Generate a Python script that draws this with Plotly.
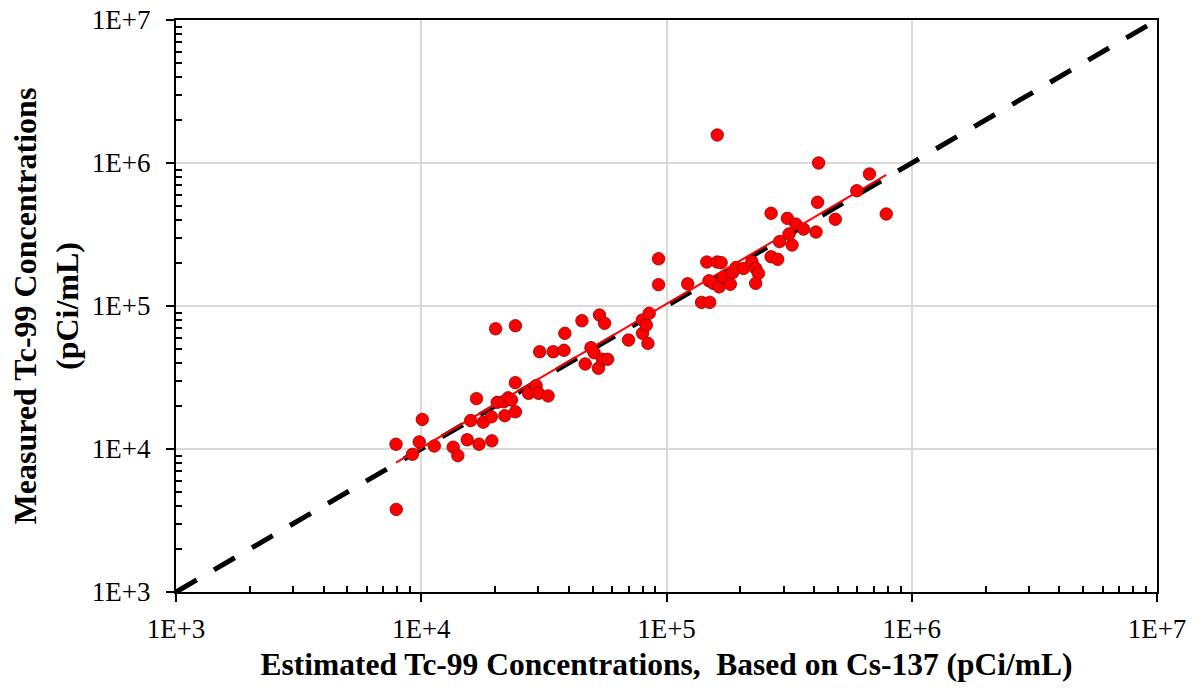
import numpy as np
import plotly.graph_objects as go

# Estimated Tc-99 (based on Cs-137), pCi/mL
est_tc99 = [7.91e3, 7.89e3, 1.01e4, 9.81e3, 9.21e3, 1.13e4, 1.35e4, 1.41e4, 1.54e4, 1.72e4,
            1.94e4, 1.59e4, 1.79e4, 1.93e4, 2.19e4, 2.42e4, 1.68e4, 2.04e4, 2.17e4, 2.26e4,
            2.33e4, 2.42e4, 2.01e4, 2.42e4, 2.74e4, 2.94e4, 3.01e4, 3.29e4, 3.04e4, 3.45e4,
            3.82e4, 3.85e4, 4.52e4, 5.33e4, 5.59e4, 4.92e4, 5.07e4, 4.66e4, 5.28e4, 5.48e4,
            5.75e4, 7.00e4, 7.98e4, 8.40e4, 7.98e4, 8.27e4, 8.50e4, 9.28e4, 9.28e4, 1.22e5,
            1.39e5, 1.50e5, 1.46e5, 1.61e5, 1.67e5, 1.49e5, 1.55e5, 1.64e5, 1.71e5, 1.82e5,
            1.86e5, 1.92e5, 2.06e5, 2.23e5, 2.31e5, 2.37e5, 2.31e5, 2.67e5, 2.84e5, 2.89e5,
            3.25e5, 3.16e5, 2.67e5, 3.11e5, 3.37e5, 3.62e5, 4.07e5, 4.13e5, 4.17e5, 4.88e5,
            5.97e5, 6.72e5, 7.87e5, 1.61e5]
# Measured Tc-99, pCi/mL
meas_tc99 = [3.78e3, 1.08e4, 1.61e4, 1.12e4, 9.18e3, 1.05e4, 1.03e4, 8.98e3, 1.16e4, 1.08e4,
             1.14e4, 1.58e4, 1.54e4, 1.68e4, 1.71e4, 1.82e4, 2.25e4, 2.12e4, 2.14e4, 2.28e4,
             2.20e4, 2.91e4, 6.93e4, 7.28e4, 2.45e4, 2.77e4, 2.45e4, 2.35e4, 4.79e4, 4.79e4,
             4.90e4, 6.44e4, 7.89e4, 8.65e4, 7.57e4, 5.11e4, 4.71e4, 3.93e4, 3.67e4, 4.24e4,
             4.24e4, 5.78e4, 6.44e4, 5.48e4, 7.98e4, 7.36e4, 8.89e4, 2.14e5, 1.41e5, 1.43e5,
             1.06e5, 1.06e5, 2.03e5, 2.03e5, 2.01e5, 1.50e5, 1.44e5, 1.36e5, 1.59e5, 1.42e5,
             1.71e5, 1.86e5, 1.83e5, 2.04e5, 1.83e5, 1.69e5, 1.44e5, 2.21e5, 2.12e5, 2.82e5,
             2.67e5, 3.19e5, 4.45e5, 4.10e5, 3.74e5, 3.45e5, 3.29e5, 5.31e5, 1.00e6, 4.04e5,
             6.40e5, 8.38e5, 4.40e5, 1.57e6]

one_to_one = [1e3, 1e7]
tick_vals = [1e3, 1e4, 1e5, 1e6, 1e7]
tick_text = ["1E+3", "1E+4", "1E+5", "1E+6", "1E+7"]

x_title = "Estimated Tc-99 Concentrations,  Based on Cs-137 (pCi/mL)"
y_title = "Measured Tc-99 Concentrations<br>(pCi/mL)"

# power-law trend (least squares in log space, as a spreadsheet power trendline)
lx = np.log10(est_tc99)
ly = np.log10(meas_tc99)
b, a = np.polyfit(lx, ly, 1)
trend_x = np.array([min(est_tc99), max(est_tc99)])
trend_y = 10 ** (a + b * np.log10(trend_x))

minor_vals = [m * 10 ** k for k in range(3, 7) for m in range(2, 10)]

fig = go.Figure()
fig.add_trace(go.Scatter(x=one_to_one, y=one_to_one, mode="lines",
                         line=dict(color="black", width=5, dash="24px,20px"),
                         showlegend=False, hoverinfo="skip"))
fig.add_trace(go.Scatter(x=est_tc99, y=meas_tc99, mode="markers",
                         marker=dict(color="#ff0000", size=12.5,
                                     line=dict(color="#8b0000", width=0.8)),
                         showlegend=False))
fig.add_trace(go.Scatter(x=trend_x, y=trend_y, mode="lines",
                         line=dict(color="#ff0000", width=2),
                         showlegend=False, hoverinfo="skip"))

tickfont = dict(family="Liberation Serif", size=27, color="black")
xtitlefont = dict(family="Liberation Serif", size=31.5, color="black")
ytitlefont = dict(family="Liberation Serif", size=32, color="black")

common = dict(type="log", range=[3, 7], tickmode="array", tickvals=tick_vals,
              ticktext=tick_text, ticks="outside", ticklen=8, tickwidth=2,
              tickcolor="black", showline=True, linecolor="black", linewidth=2,
              mirror=True, showgrid=True, gridcolor="#d9d9d9", gridwidth=2,
              zeroline=False, tickfont=tickfont, automargin=False,
              ticklabeloverflow="allow",
              minor=dict(tickmode="array", tickvals=minor_vals, ticks="inside",
                         ticklen=6, tickwidth=1.5, tickcolor="black", showgrid=False))

fig.update_layout(
    width=1196, height=690,
    margin=dict(l=176, r=39, t=20, b=98),
    paper_bgcolor="white", plot_bgcolor="white",
    xaxis=dict(**common, title=dict(text="<b>" + x_title + "</b>", font=xtitlefont, standoff=10),
               ticklabelstandoff=4),
    yaxis=dict(**common, title=dict(text="<b>" + y_title + "</b>", font=ytitlefont, standoff=4),
               ticklabelstandoff=10),
    xaxis2=dict(type="log", range=[3, 7], overlaying="x", anchor="y", side="bottom",
                tickmode="array", tickvals=tick_vals, ticks="inside", ticklen=8,
                tickwidth=2, tickcolor="black", showticklabels=False, showgrid=False,
                showline=False, zeroline=False, automargin=False),
    yaxis2=dict(type="log", range=[3, 7], overlaying="y", anchor="x", side="left",
                tickmode="array", tickvals=tick_vals, ticks="inside", ticklen=8,
                tickwidth=2, tickcolor="black", showticklabels=False, showgrid=False,
                showline=False, zeroline=False, automargin=False),
)

fig.write_html("out.html", config={"displayModeBar": False},
               post_script="document.body.style.margin='0px';")
